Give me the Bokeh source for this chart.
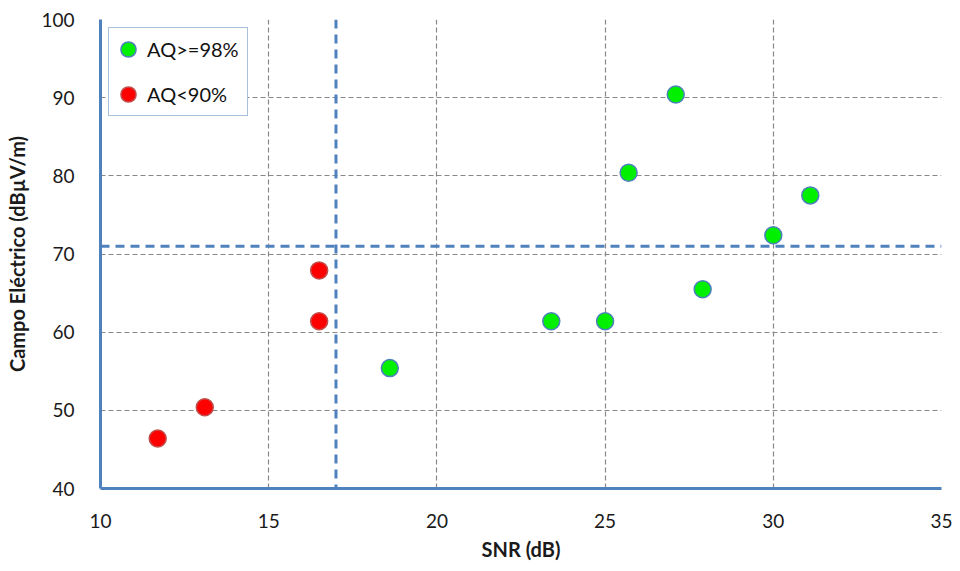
from bokeh.plotting import figure
from bokeh.models import Span, Legend, LegendItem, FixedTicker, ColumnDataSource
from bokeh.embed import file_html
from bokeh.resources import INLINE

# Data
green_snr = [18.6, 23.4, 25.0, 25.7, 27.1, 27.9, 30.0, 31.1]
green_field = [55.4, 61.4, 61.4, 80.4, 90.4, 65.5, 72.4, 77.5]
red_snr = [11.7, 13.1, 16.5, 16.5]
red_field = [46.4, 50.4, 61.4, 67.9]
snr_threshold = 17.0
field_threshold = 71.0
x_ticks = [10, 15, 20, 25, 30, 35]
y_ticks = [40, 50, 60, 70, 80, 90, 100]
labels = ["AQ>=98%", "AQ<90%"]

FONT = "Lato"
BLUE = "#4f81bd"

p = figure(width=952, height=563, x_range=(10, 35), y_range=(40, 100),
           output_backend="svg", toolbar_location=None,
           min_border_left=100, min_border_right=11, min_border_top=19, min_border_bottom=75)
p.outline_line_color = None
p.background_fill_color = "white"

for ax in (p.xaxis[0], p.yaxis[0]):
    ax.axis_line_color = BLUE
    ax.axis_line_width = 3
    ax.major_tick_line_color = None
    ax.minor_tick_line_color = None
    ax.major_label_text_font = FONT
    ax.major_label_text_font_size = "19px"
    ax.major_label_text_color = "#1a1a1a"
    ax.axis_label_text_font = FONT
    ax.axis_label_text_font_size = "20px"
    ax.axis_label_text_font_style = "bold"
    ax.axis_label_text_color = "#1a1a1a"

p.xaxis.ticker = FixedTicker(ticks=x_ticks)
p.yaxis.ticker = FixedTicker(ticks=y_ticks)
p.xaxis.axis_label = "SNR (dB)"
p.yaxis.axis_label = "Campo Eléctrico (dBµV/m)"
p.xaxis.major_label_standoff = 19
p.yaxis.major_label_standoff = 20
p.xaxis.axis_label_standoff = 6
p.yaxis.axis_label_standoff = 9

for g in (p.xgrid[0], p.ygrid[0]):
    g.grid_line_color = "#888888"
    g.grid_line_dash = "5 3"
    g.grid_line_width = 1.2

p.add_layout(Span(location=snr_threshold, dimension="height", line_color=BLUE,
                  line_width=3, line_dash="9 6"))
p.add_layout(Span(location=field_threshold, dimension="width", line_color=BLUE,
                  line_width=3, line_dash="9 6"))

gsrc = ColumnDataSource(dict(x=green_snr, y=green_field))
rsrc = ColumnDataSource(dict(x=red_snr, y=red_field))
rg = p.scatter("x", "y", source=gsrc, size=17, fill_color="#00f000",
               line_color="#4f81bd", line_width=1.5)
rr = p.scatter("x", "y", source=rsrc, size=17, fill_color="#ff0000",
               line_color="#c0504d", line_width=1.5)

legend = Legend(items=[LegendItem(label=labels[0], renderers=[rg]),
                       LegendItem(label=labels[1], renderers=[rr])],
                location="top_left")
legend.border_line_color = BLUE
legend.border_line_width = 1.5
legend.label_text_font = FONT
legend.label_text_font_size = "20px"
legend.label_text_color = "#111111"
legend.margin = 8
legend.padding = 0
legend.spacing = 3
legend.glyph_width = 38
legend.glyph_height = 42
legend.label_standoff = 0
legend.label_width = 100
legend.background_fill_alpha = 1
p.add_layout(legend)

open("out.html", "w").write(file_html(p, INLINE))
